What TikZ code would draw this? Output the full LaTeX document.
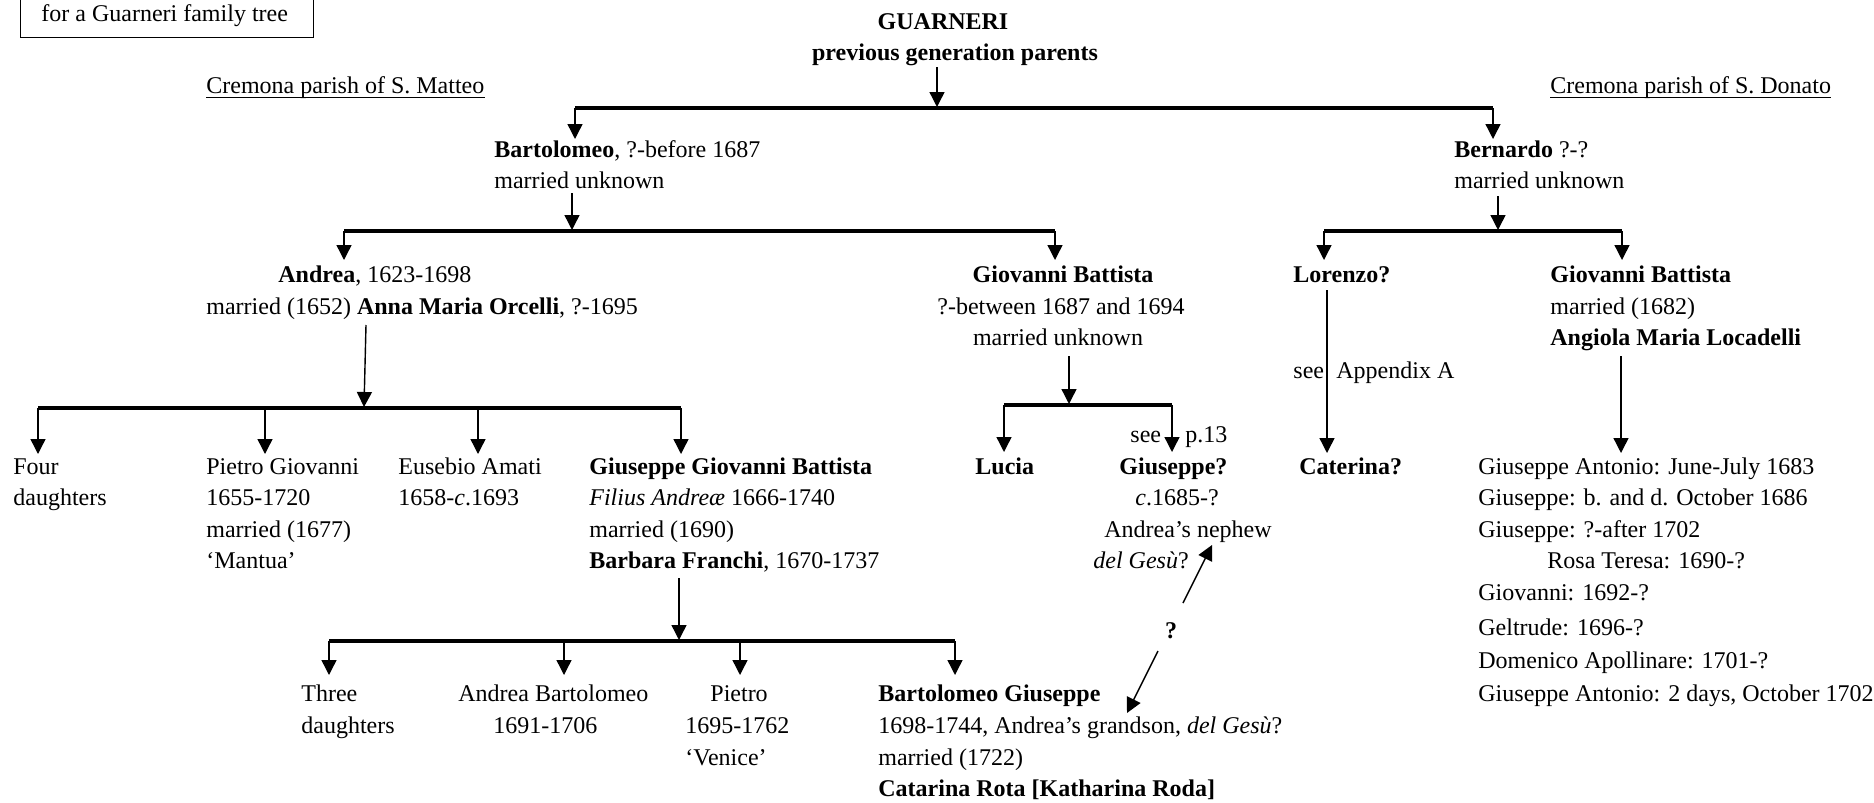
\documentclass[tikz,border=0pt]{standalone}
\usepackage{fontspec}
\setmainfont{Liberation Serif}
\usetikzlibrary{arrows.meta}
\begin{document}
\begin{tikzpicture}[x=0.5pt,y=-0.5pt,
  font=\fontsize{12}{14}\selectfont,
  t/.style={anchor=base west, inner sep=0pt},
  tc/.style={anchor=base, inner sep=0pt},
  arr/.style={line width=0.7pt, -{Triangle[width=7.5pt,length=7.5pt]}},
  bar/.style={line width=1.6pt},
  uline/.style={line width=0.5pt},
  framebox/.style={draw, line width=0.5pt}]
\useasboundingbox (0,0) rectangle (1874,803);

% header box
\draw[framebox] (20,-10) rectangle (313,37);
\node[t] (boxtxt) at (41,21) {for a Guarneri family tree};

% title
\node[tc] (guar) at (943,29) {\textbf{GUARNERI}};
\node[tc] (prev) at (955,61) {\textbf{previous generation parents}};
\node[t] (matteo) at (206,93) {Cremona parish of S. Matteo};
\node[t] (donato) at (1550,93) {Cremona parish of S. Donato};
\draw[uline] ([yshift=-2pt]matteo.base west) -- ([yshift=-2pt]matteo.base east);
\draw[uline] ([yshift=-2pt]donato.base west) -- ([yshift=-2pt]donato.base east);

% generation 1
\node[t] (bart) at (494,157) {\textbf{Bartolomeo}, ?-before 1687};
\node[t] (bartm) at (494,188) {married unknown};
\node[t] (bern) at (1454,157) {\textbf{Bernardo} ?-?};
\node[t] (bernm) at (1454,188) {married unknown};

% generation 2
\node[t] (andrea) at (278,282) {\textbf{Andrea}, 1623-1698};
\node[t] (andream) at (206,314) {married (1652) \textbf{Anna Maria Orcelli}, ?-1695};
\node[tc] (gbm) at (1063,282) {\textbf{Giovanni Battista}};
\node[tc] (gbm2) at (1061,314) {?-between 1687 and 1694};
\node[tc] (gbm3) at (1058,345) {married unknown};
\node[t] (lor) at (1293,282) {\textbf{Lorenzo?}};
\node[t] (gbr) at (1550,282) {\textbf{Giovanni Battista}};
\node[t] (gbr2) at (1550,314) {married (1682)};
\node[t] (gbr3) at (1550,345) {\textbf{Angiola Maria Locadelli}};
\node[t] (seeA) at (1293,378) {see};
\node[t] (appA) at (1336,378) {Appendix A};

% generation 3 (row A)
\node[t] (four) at (13,474) {Four};
\node[t] (four2) at (13,505) {daughters};
\node[t] (pg) at (206,474) {Pietro Giovanni};
\node[t] (pg2) at (206,505) {1655-1720};
\node[t] (pg3) at (206,537) {married (1677)};
\node[t] (pg4) at (206,568) {‘Mantua’};
\node[t] (eus) at (398,474) {Eusebio Amati};
\node[t] (eus2) at (398,505) {1658-\textit{c}.1693};
\node[t] (ggb) at (589,474) {\textbf{Giuseppe Giovanni Battista}};
\node[t] (ggb2) at (589,505) {\textit{Filius Andreæ} 1666-1740};
\node[t] (ggb3) at (589,537) {married (1690)};
\node[t] (ggb4) at (589,568) {\textbf{Barbara Franchi}, 1670-1737};
\node[t] (lucia) at (975,474) {\textbf{Lucia}};
\node[t] (seep) at (1130,442) {see};
\node[t] (p13) at (1185,442) {p.13};
\node[t] (gq) at (1119,474) {\textbf{Giuseppe?}};
\node[t] (gq2) at (1135,505) {\textit{c}.1685-?};
\node[t] (gq3) at (1104,537) {Andrea’s nephew};
\node[t] (gq4) at (1093,568) {\textit{del Gesù}?};
\node[t] (cat) at (1299,474) {\textbf{Caterina?}};
\node[t] (l1) at (1478,474) {Giuseppe Antonio: June-July 1683};
\node[t] (l2) at (1478,505) {Giuseppe: b. and d. October 1686};
\node[t] (l3) at (1478,537) {Giuseppe: ?-after 1702};
\node[t] (l4) at (1547,568) {Rosa Teresa: 1690-?};
\node[t] (l5) at (1478,600) {Giovanni: 1692-?};
\node[t] (l6) at (1478,635) {Geltrude: 1696-?};
\node[t] (l7) at (1478,668) {Domenico Apollinare: 1701-?};
\node[t] (l8) at (1478,701) {Giuseppe Antonio: 2 days, October 1702};
\node[tc] (qm) at (1171,638) {\textbf{?}};

% generation 4 (row B)
\node[t] (three) at (301,701) {Three};
\node[t] (three2) at (301,733) {daughters};
\node[t] (ab) at (458,701) {Andrea Bartolomeo};
\node[t] (ab2) at (493,733) {1691-1706};
\node[t] (pie) at (710,701) {Pietro};
\node[t] (pie2) at (685,733) {1695-1762};
\node[t] (pie3) at (685,765) {‘Venice’};
\node[t] (bg) at (878,701) {\textbf{Bartolomeo Giuseppe}};
\node[t] (bg2) at (878,733) {1698-1744, Andrea’s grandson, \textit{del Gesù}?};
\node[t] (bg3) at (878,765) {married (1722)};
\node[t] (bg4) at (878,796) {\textbf{Catarina Rota [Katharina Roda]}};

% ---- connectors ----
% bar 1
\coordinate (b1L) at (575,108); \coordinate (b1R) at (1493,108);
\coordinate (g0) at (937,67); \coordinate (g1) at (937,107);
\draw[bar] (b1L) -- (b1R);
\draw[arr] (g0) -- (g1);
\coordinate (bartin) at (575,139); \coordinate (bernin) at (1493,139);
\draw[arr] (b1L) -- (bartin);
\draw[arr] (b1R) -- (bernin);

% bar 2 (Bartolomeo's children)
\coordinate (b2L) at (344,231); \coordinate (b2R) at (1055,231);
\coordinate (bo0) at (572,193); \coordinate (bo1) at (572,230);
\draw[bar] (b2L) -- (b2R);
\draw[arr] (bo0) -- (bo1);
\coordinate (andin) at (344,260); \coordinate (gbmin) at (1055,260);
\draw[arr] (b2L) -- (andin);
\draw[arr] (b2R) -- (gbmin);

% bar 6 (Bernardo's children)
\coordinate (b6L) at (1324,231); \coordinate (b6R) at (1622,231);
\coordinate (be0) at (1498,196); \coordinate (be1) at (1498,230);
\draw[bar] (b6L) -- (b6R);
\draw[arr] (be0) -- (be1);
\coordinate (lorin) at (1324,260); \coordinate (gbrin) at (1622,260);
\draw[arr] (b6L) -- (lorin);
\draw[arr] (b6R) -- (gbrin);

% Lorenzo -> Caterina
\coordinate (lo0) at (1327,290); \coordinate (catin) at (1327,453);
\draw[arr] (lo0) -- (catin);
% right GB -> list
\coordinate (gr0) at (1621,356); \coordinate (listin) at (1621,453);
\draw[arr] (gr0) -- (listin);

% bar 3 (Andrea's children)
\coordinate (b3L) at (38,408); \coordinate (b3R) at (681,408);
\coordinate (an0) at (366,325); \coordinate (an1) at (364,407);
\draw[bar] (b3L) -- (b3R);
\draw[arr] (an0) -- (an1);
\coordinate (c1) at (38,454); \coordinate (c2t) at (265,408); \coordinate (c2) at (265,454);
\coordinate (c3t) at (478,408); \coordinate (c3) at (478,454); \coordinate (c4) at (681,454);
\draw[arr] (b3L) -- (c1);
\draw[arr] (c2t) -- (c2);
\draw[arr] (c3t) -- (c3);
\draw[arr] (b3R) -- (c4);

% bar 5 (middle GB's children)
\coordinate (b5L) at (1004,405); \coordinate (b5R) at (1172,405);
\coordinate (gm0) at (1069,356); \coordinate (gm1) at (1069,404);
\draw[bar] (b5L) -- (b5R);
\draw[arr] (gm0) -- (gm1);
\coordinate (lucin) at (1004,452); \coordinate (gqin) at (1172,452);
\draw[arr] (b5L) -- (lucin);
\draw[arr] (b5R) -- (gqin);

% bar 4 (Giuseppe G. B.'s children)
\coordinate (b4L) at (329,641); \coordinate (b4R) at (955,641);
\coordinate (gg0) at (679,578); \coordinate (gg1) at (679,640);
\draw[bar] (b4L) -- (b4R);
\draw[arr] (gg0) -- (gg1);
\coordinate (d1) at (329,675); \coordinate (d2t) at (564,641); \coordinate (d2) at (564,675);
\coordinate (d3t) at (740,641); \coordinate (d3) at (740,675); \coordinate (d4) at (955,675);
\draw[arr] (b4L) -- (d1);
\draw[arr] (d2t) -- (d2);
\draw[arr] (d3t) -- (d3);
\draw[arr] (b4R) -- (d4);

% question arrows
\coordinate (qa0) at (1183,603); \coordinate (qa1) at (1212,545);
\coordinate (qb0) at (1158,651); \coordinate (qb1) at (1127,713);
\draw[arr] (qa0) -- (qa1);
\draw[arr] (qb0) -- (qb1);
\end{tikzpicture}
\end{document}
